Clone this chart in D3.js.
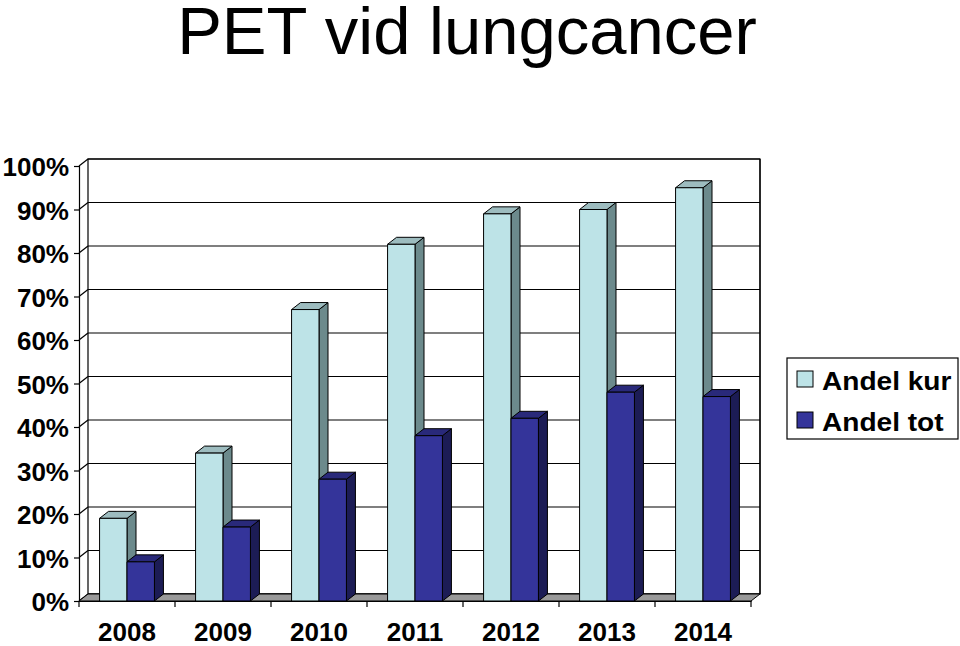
<!DOCTYPE html>
<html><head><meta charset="utf-8">
<script src="https://cdn.jsdelivr.net/npm/d3@7"></script>
<style>body{margin:0;background:#fff}svg{display:block}text{font-family:"Liberation Sans",Arial,sans-serif}</style>
</head><body><svg id="c" width="960" height="646"></svg>
<script>
const years = ["2008","2009","2010","2011","2012","2013","2014"];
const seriesNames = ["Andel kur","Andel tot"];
const andelKur = [0.19,0.34,0.67,0.82,0.89,0.90,0.95];
const andelTot = [0.09,0.17,0.28,0.38,0.42,0.48,0.47];
const yTicks = [0,0.1,0.2,0.3,0.4,0.5,0.6,0.7,0.8,0.9,1.0];
const titleText = "PET vid lungcancer";

(function(){
const colors = {
  "Andel kur": {front:"#BDE3E7", side:"#6C8A8C", top:"#9DBCBF"},
  "Andel tot": {front:"#34349A", side:"#1C1C55", top:"#29297A"}
};
const svg = d3.select("#c");
const dx = 9, dy = -7;
const pL = 79, pR = 751, pB = 601, pT = 166;
const x0 = d3.scaleBand().domain(years).range([pL, pR]).padding(0);
const bw = x0.bandwidth();
const barW = bw / 3.5;
const x1 = d3.scaleBand().domain(seriesNames).range([barW*0.75, bw - barW*0.75]).padding(0);
const y = d3.scaleLinear().domain([0,1]).range([pB, pT]);

// title
svg.append("text").attr("x", 467).attr("y", 54).attr("text-anchor","middle")
  .attr("font-size", 67).text(titleText);

// back wall
svg.append("rect").attr("x", pL+dx).attr("y", pT+dy).attr("width", pR-pL).attr("height", pB-pT)
  .attr("fill","#fff").attr("stroke","#000").attr("stroke-width",1.2);
const g = svg.append("g");
yTicks.forEach(t => {
  g.append("line").attr("x1", pL+dx).attr("x2", pR+dx).attr("y1", y(t)+dy).attr("y2", y(t)+dy)
    .attr("stroke","#000").attr("stroke-width",1.2);
  g.append("line").attr("x1", pL).attr("x2", pL+dx).attr("y1", y(t)).attr("y2", y(t)+dy)
    .attr("stroke","#000").attr("stroke-width",1.2);
});
// floor
svg.append("polygon").attr("points", [[pL,pB],[pR,pB],[pR+dx,pB+dy],[pL+dx,pB+dy]].map(p=>p.join(",")).join(" "))
  .attr("fill","#999").attr("stroke","#000").attr("stroke-width",1);
svg.append("line").attr("x1", pR+dx).attr("x2", pR+dx).attr("y1", pT+dy).attr("y2", pB+dy).attr("stroke","#000").attr("stroke-width",1.2);

// y axis (front)
const yAxis = d3.axisLeft(y).tickValues(yTicks).tickFormat(d3.format(".0%")).tickSize(5).tickPadding(5);
const ya = svg.append("g").attr("transform", `translate(${pL},0)`).call(yAxis);
ya.select(".domain").attr("stroke","#000").attr("stroke-width",1.2);
ya.selectAll("line").attr("stroke","#000").attr("stroke-width",1.2);
ya.selectAll("text").attr("font-size",26).attr("font-weight","bold").attr("fill","#000").attr("font-family","Liberation Sans, Arial, sans-serif").attr("dy","0.38em");

// bars
const data = years.map((yr,i)=>({year:yr, vals:[{s:"Andel kur", v:andelKur[i]},{s:"Andel tot", v:andelTot[i]}]}));
const bars = svg.append("g");
data.forEach(d => {
  d.vals.forEach(b => {
    const xL = x0(d.year) + x1(b.s), xR = xL + x1.bandwidth();
    const yT = y(b.v), yB = y(0);
    const c = colors[b.s];
    const pg = bars.append("g").attr("stroke","#000").attr("stroke-width",1).attr("stroke-linejoin","round");
    pg.append("polygon").attr("points", [[xR,yB],[xR+dx,yB+dy],[xR+dx,yT+dy],[xR,yT]].map(p=>p.join(",")).join(" ")).attr("fill", c.side);
    pg.append("polygon").attr("points", [[xL,yT],[xR,yT],[xR+dx,yT+dy],[xL+dx,yT+dy]].map(p=>p.join(",")).join(" ")).attr("fill", c.top);
    pg.append("rect").attr("x", xL).attr("y", yT).attr("width", xR-xL).attr("height", yB-yT).attr("fill", c.front);
  });
});

// x axis
const xAxis = d3.axisBottom(x0).tickSize(0).tickPadding(22);
const xa = svg.append("g").attr("transform", `translate(0,${pB})`).call(xAxis);
xa.select(".domain").attr("stroke","#000").attr("stroke-width",1.2);
xa.selectAll("text").attr("font-size",26).attr("font-weight","bold").attr("fill","#000").attr("font-family","Liberation Sans, Arial, sans-serif");
const bounds = years.map(yr=>x0(yr)).concat([pR]);
xa.selectAll(".bt").data(bounds).enter().append("line").attr("class","bt")
  .attr("x1",d=>d).attr("x2",d=>d).attr("y1",0).attr("y2",6).attr("stroke","#000").attr("stroke-width",1.2);

// legend
const lg = svg.append("g").attr("transform","translate(787,358)");
lg.append("rect").attr("width",171).attr("height",81).attr("fill","#fff").attr("stroke","#000").attr("stroke-width",1.2);
seriesNames.forEach((s,i)=>{
  lg.append("rect").attr("x",10).attr("y",13+i*41).attr("width",16).attr("height",16).attr("fill",colors[s].front).attr("stroke","#000").attr("stroke-width",1);
  lg.append("text").attr("transform",`translate(35,${32+i*41}) scale(1.08,1)`).attr("font-size",26).attr("font-weight","bold").text(s);
});
})();
</script></body></html>
